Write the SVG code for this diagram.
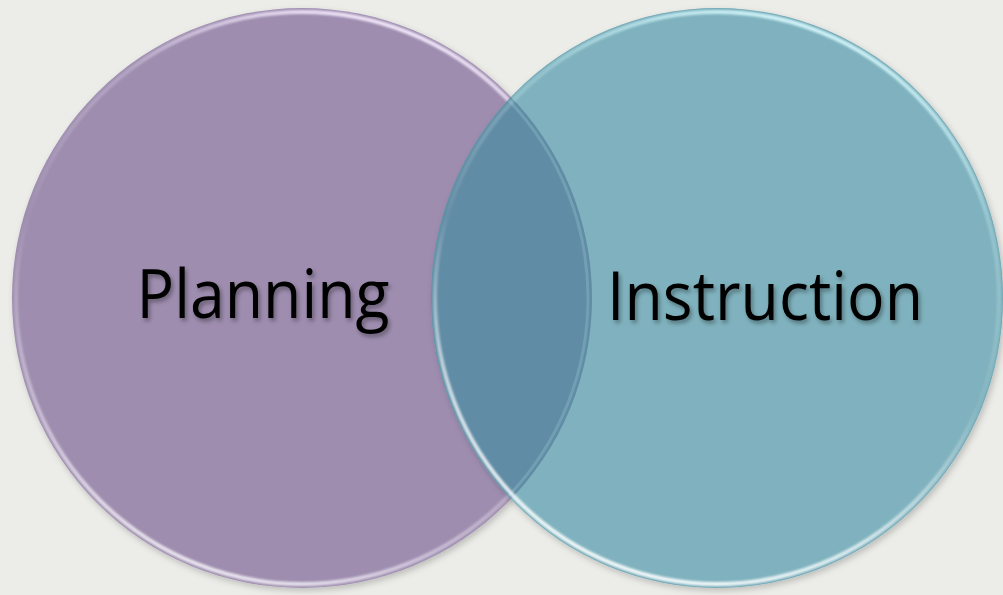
<svg xmlns="http://www.w3.org/2000/svg" width="1003" height="595" viewBox="0 0 1003 595">
  <defs>
    <style>
      .lbl { font-family: "Open Sans", "Liberation Sans", sans-serif; font-size: 68px; fill: #000; text-anchor: middle; filter: url(#txtShadow); }
      .rim { fill: none; stroke-width: 4; }
    </style>
    <filter id="shadow" x="-10%" y="-10%" width="120%" height="120%">
      <feDropShadow dx="2" dy="3" stdDeviation="3" flood-color="#000" flood-opacity="0.2"/>
    </filter>
    <filter id="txtShadow" x="-10%" y="-20%" width="120%" height="150%">
      <feDropShadow dx="2" dy="3" stdDeviation="2" flood-color="#000" flood-opacity="0.35"/>
    </filter>
    <filter id="soft" x="-5%" y="-5%" width="110%" height="110%">
      <feGaussianBlur stdDeviation="0.8"/>
    </filter>
    <linearGradient id="rimPurple" x1="0.6" y1="0" x2="0.25" y2="1">
      <stop offset="0" stop-color="#f4eafc" stop-opacity="0.95"/>
      <stop offset="0.22" stop-color="#e8dcf2" stop-opacity="0.3"/>
      <stop offset="0.5" stop-color="#ffffff" stop-opacity="0.02"/>
      <stop offset="0.8" stop-color="#f4ecfa" stop-opacity="0.5"/>
      <stop offset="1" stop-color="#ffffff" stop-opacity="0.9"/>
    </linearGradient>
    <linearGradient id="rimTeal" x1="0.6" y1="0" x2="0.25" y2="1">
      <stop offset="0" stop-color="#d4f6fb" stop-opacity="0.95"/>
      <stop offset="0.22" stop-color="#c6eef4" stop-opacity="0.3"/>
      <stop offset="0.5" stop-color="#ffffff" stop-opacity="0.05"/>
      <stop offset="0.78" stop-color="#f4fbfc" stop-opacity="0.75"/>
      <stop offset="1" stop-color="#ffffff" stop-opacity="0.95"/>
    </linearGradient>
    <clipPath id="leftClip">
      <circle cx="302" cy="298" r="290"/>
    </clipPath>
    <clipPath id="rightClip">
      <ellipse cx="717" cy="298" rx="286" ry="290"/>
    </clipPath>
  </defs>
  <rect x="0" y="0" width="1003" height="595" fill="#ecece8"/>

  <g id="planning">
    <circle cx="302" cy="298" r="290" fill="#9e8daf" filter="url(#shadow)"/>
    <circle class="rim" cx="302" cy="298" r="286" stroke="url(#rimPurple)" filter="url(#soft)"/>
  </g>

  <g id="instruction">
    <ellipse cx="717" cy="298" rx="286" ry="290" fill="#7fb2be" filter="url(#shadow)"/>
    <ellipse cx="717" cy="298" rx="286" ry="290" fill="#618ca5" clip-path="url(#leftClip)"/>
    <circle cx="302" cy="298" r="286" fill="none" stroke="#8fbccb" stroke-width="3" stroke-opacity="0.4" clip-path="url(#rightClip)"/>
    <ellipse class="rim" cx="717" cy="298" rx="282" ry="286" stroke="url(#rimTeal)" filter="url(#soft)"/>
    <ellipse cx="717" cy="298" rx="285.5" ry="289.5" fill="none" stroke="#5f98a8" stroke-width="1" stroke-opacity="0.35"/>
  </g>

  <g id="labels">
    <text class="lbl" x="263" y="318" textLength="253" lengthAdjust="spacingAndGlyphs">Planning</text>
    <text class="lbl" x="765" y="320" textLength="316" lengthAdjust="spacingAndGlyphs">Instruction</text>
  </g>
</svg>
